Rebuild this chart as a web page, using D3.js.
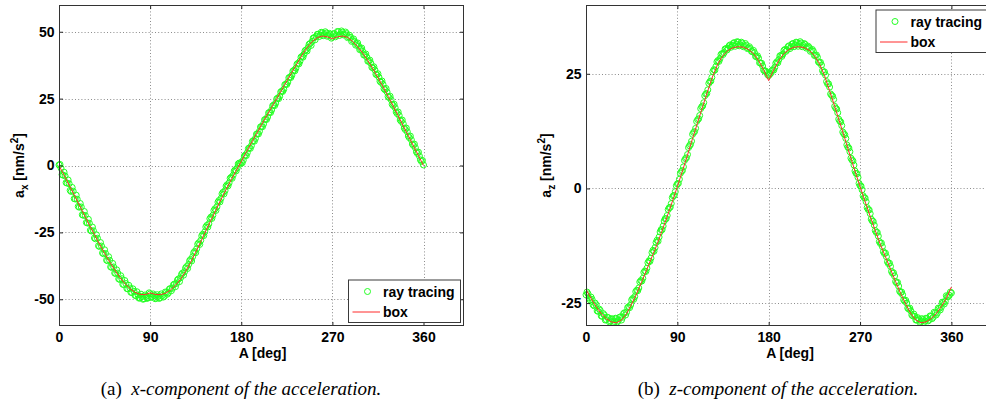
<!DOCTYPE html>
<html>
<head>
<meta charset="utf-8">
<script src="https://cdn.jsdelivr.net/npm/d3@7"></script>
<style>
  html, body { margin: 0; padding: 0; background: #fff; }
  svg { display: block; }
  .tick text { font-family: "Liberation Sans", Arial, sans-serif; font-weight: bold; font-size: 14px; fill: #000; }
  .lbl { font-family: "Liberation Sans", Arial, sans-serif; font-weight: bold; font-size: 14px; fill: #000; }
  .cap { font-family: "Liberation Serif", "DejaVu Serif", serif; font-size: 19px; fill: #000; }
</style>
</head>
<body>
<svg id="fig" width="986" height="408"></svg>
<script>
// Azimuth angle A [deg]: box model sampled every 5 deg, ray tracing every 1 deg
const boxAngles = d3.range(0, 361, 5);
const rayAngles = d3.range(0, 361, 1);
const xTicks = [0, 90, 180, 270, 360];

// (a) x-component, box model
const axBox = [
  0, -3.6, -7.3, -11, -14.7, -18.5, -22.2, -25.8, -29.4, -32.8, -36, -39, -41.8, -44.1, -46,
  -47.4, -48.2, -48.3, -47.6, -48.2, -48.3, -47.8, -46.6, -44.8, -42.5, -39.6, -36.2, -32.4,
  -28.5, -24.4, -20.5, -16.6, -12.7, -9, -5.4, -1.9, 1.5, 5, 8.4, 11.8, 15.2, 18.5, 21.8, 25,
  28.3, 31.6, 34.8, 38, 41.2, 44, 46.3, 47.8, 48.4, 48.1, 47.4, 48.1, 48.4, 47.9, 46.4, 44.4,
  42, 39.2, 36.2, 32.9, 29.5, 25.9, 22.3, 18.6, 14.8, 11.1, 7.4, 3.7, 0
];
// (a) x-component, ray tracing (0..360 deg)
const axRay = [
  0.2, 0.4, -1.0, -3.4, -3.6, -2.5, -3.9, -6.4, -6.6, -5.4,
  -6.8, -9.3, -9.7, -8.2, -9.6, -12.4, -12.5, -11.1, -12.6, -15.3,
  -15.6, -14.2, -15.5, -18.4, -18.6, -17.2, -18.7, -21.3, -21.5, -20.1,
  -21.6, -24.2, -24.5, -23.0, -24.4, -27.1, -27.4, -25.9, -27.2, -30.0,
  -30.3, -28.8, -30.1, -32.7, -33.0, -31.5, -32.9, -35.4, -35.6, -34.1,
  -35.4, -37.9, -38.1, -36.6, -37.9, -40.2, -40.4, -39.0, -40.2, -42.4,
  -42.6, -41.2, -42.3, -44.4, -44.5, -43.0, -44.1, -46.0, -46.1, -44.8,
  -45.8, -47.4, -47.5, -46.1, -47.0, -48.5, -48.7, -47.2, -48.4, -49.6,
  -49.5, -48.1, -49.0, -50.0, -49.8, -48.4, -48.9, -49.7, -49.4, -47.6,
  -48.0, -49.3, -49.1, -48.0, -48.6, -49.8, -49.6, -48.3, -48.9, -49.7,
  -49.4, -48.0, -48.6, -49.2, -48.9, -47.3, -47.5, -48.1, -47.6, -46.2,
  -46.0, -46.8, -45.9, -44.6, -44.3, -45.3, -44.1, -42.8, -42.4, -43.4,
  -42.0, -40.7, -40.2, -41.0, -39.7, -38.3, -37.8, -38.5, -37.0, -35.6,
  -35.1, -35.7, -34.1, -32.6, -32.1, -32.6, -31.1, -29.4, -28.9, -29.5,
  -28.0, -26.3, -25.7, -26.2, -24.8, -23.0, -22.4, -23.0, -21.8, -19.9,
  -19.3, -19.8, -18.6, -16.8, -16.2, -16.8, -15.4, -13.7, -13.1, -13.6,
  -12.3, -10.6, -10.0, -10.6, -9.4, -7.7, -7.2, -7.6, -6.5, -4.8,
  -4.4, -4.8, -3.6, -2.1, -1.6, -2.0, -0.9, 0.6, 0.9, 0.5,
  1.2, 1.0, 2.0, 3.5, 3.9, 3.7, 4.8, 6.3, 6.6, 6.4,
  7.4, 9.0, 9.3, 9.1, 10.1, 11.7, 11.9, 11.8, 12.8, 14.4,
  14.6, 14.5, 15.5, 17.1, 17.3, 17.2, 18.1, 19.7, 19.9, 19.8,
  20.8, 22.3, 22.6, 22.4, 23.3, 24.9, 25.2, 25.0, 25.9, 27.5,
  27.8, 27.7, 28.5, 30.2, 30.4, 30.3, 31.2, 32.8, 33.0, 32.9,
  33.8, 35.3, 35.6, 35.4, 36.4, 37.9, 38.2, 38.0, 39.0, 40.5,
  40.8, 40.5, 41.6, 42.9, 43.2, 42.8, 44.1, 45.3, 45.6, 44.9,
  46.4, 47.6, 47.8, 47.0, 48.2, 49.0, 49.1, 48.2, 48.8, 49.8,
  49.6, 48.5, 49.0, 50.0, 49.5, 48.3, 48.6, 49.4, 49.1, 47.6,
  48.0, 49.2, 49.3, 48.1, 48.7, 50.1, 50.0, 48.6, 49.2, 50.3,
  49.8, 48.8, 49.0, 49.9, 49.3, 47.8, 48.1, 48.7, 47.9, 46.4,
  46.8, 47.3, 46.3, 45.0, 45.4, 45.8, 44.6, 43.3, 43.5, 43.9,
  42.6, 41.3, 41.3, 41.7, 40.5, 39.0, 39.0, 39.4, 38.2, 36.7,
  36.5, 36.9, 35.7, 34.1, 33.9, 34.3, 33.0, 31.5, 31.1, 31.6,
  30.3, 28.7, 28.3, 28.8, 27.5, 25.8, 25.4, 25.9, 24.6, 22.9,
  22.4, 22.9, 21.6, 20.0, 19.4, 20.0, 18.7, 17.0, 16.5, 17.0,
  15.6, 14.0, 13.4, 14.0, 12.6, 11.0, 10.4, 11.0, 9.6, 8.0,
  7.5, 8.0, 6.6, 5.1, 4.5, 5.0, 3.5, 2.1, 1.5, 1.9,
  0.2
];

// (b) z-component, box model
const azBox = [
  -22, -24, -25.8, -27.3, -28.4, -29.1, -29.3, -28.7, -27.3, -25.2, -22.9, -20.3, -17.6, -14.9,
  -12.2, -9.2, -6.1, -2.9, 0.4, 3.8, 7.3, 10.9, 14.4, 17.9, 21.3, 24.6, 27.2, 29, 30.1, 30.7,
  30.9, 30.8, 30.3, 29.4, 27.9, 25.9, 23.5, 25.9, 27.9, 29.4, 30.3, 30.8, 30.9, 30.7, 30.1, 29,
  27.2, 24.6, 21.3, 17.9, 14.4, 10.9, 7.3, 3.8, 0.4, -2.9, -6.1, -9.2, -12.2, -14.9, -17.6,
  -20.3, -22.9, -25.2, -27.3, -28.7, -29.3, -29.1, -28.4, -27.3, -25.8, -24, -21.5
];
// (b) z-component, ray tracing (0..360 deg)
const azRay = [
  -23.2, -22.6, -23.0, -23.9, -24.3, -23.7, -24.2, -25.4, -25.6, -25.0,
  -25.4, -26.7, -26.8, -26.3, -26.6, -27.8, -27.9, -27.3, -27.6, -28.7,
  -28.6, -28.1, -28.2, -29.1, -28.9, -28.4, -28.5, -29.2, -29.0, -28.3,
  -28.4, -29.1, -28.8, -28.1, -28.0, -28.7, -28.1, -27.3, -27.1, -27.6,
  -27.0, -26.0, -25.8, -26.0, -25.4, -24.3, -24.0, -24.2, -23.6, -22.5,
  -22.2, -22.3, -21.7, -20.4, -20.1, -20.2, -19.6, -18.3, -18.0, -18.1,
  -17.4, -16.2, -15.8, -15.9, -15.2, -14.0, -13.5, -13.7, -12.9, -11.8,
  -11.3, -11.5, -10.6, -9.5, -9.0, -9.0, -8.2, -7.1, -6.6, -6.6,
  -5.9, -4.6, -4.2, -4.1, -3.3, -2.0, -1.6, -1.5, -0.7, 0.6,
  1.0, 1.1, 2.0, 3.3, 3.7, 3.9, 4.7, 6.1, 6.5, 6.7,
  7.4, 8.9, 9.3, 9.6, 10.3, 11.8, 12.2, 12.4, 13.1, 14.6,
  15.0, 15.2, 15.9, 17.4, 17.8, 18.0, 18.7, 20.2, 20.6, 20.7,
  21.5, 22.9, 23.3, 23.4, 24.2, 25.5, 25.9, 25.8, 26.6, 27.6,
  27.9, 27.7, 28.3, 29.2, 29.4, 29.2, 29.6, 30.4, 30.5, 30.2,
  30.6, 31.1, 31.3, 30.8, 31.2, 31.6, 31.8, 31.0, 31.4, 32.0,
  31.9, 31.1, 31.3, 31.9, 31.7, 30.9, 31.1, 31.6, 31.2, 30.5,
  30.6, 30.9, 30.5, 29.9, 29.8, 30.1, 29.6, 28.8, 28.7, 28.9,
  28.4, 27.4, 27.3, 27.3, 26.7, 25.8, 25.6, 25.6, 25.3, 24.8,
  24.6, 24.9, 25.1, 25.7, 25.9, 25.8, 26.4, 27.3, 27.6, 27.4,
  28.1, 28.9, 29.0, 28.8, 29.3, 30.1, 30.3, 29.9, 30.2, 30.9,
  31.1, 30.5, 30.9, 31.5, 31.6, 30.9, 31.3, 31.9, 31.8, 31.0,
  31.4, 32.0, 31.7, 30.9, 31.2, 31.6, 31.4, 30.6, 30.8, 31.0,
  30.7, 29.9, 30.1, 30.3, 29.9, 29.0, 29.0, 29.1, 28.6, 27.6,
  27.4, 27.5, 26.9, 25.7, 25.3, 25.4, 24.7, 23.3, 22.8, 22.8,
  22.1, 20.6, 20.3, 20.1, 19.4, 17.9, 17.5, 17.3, 16.5, 15.1,
  14.7, 14.5, 13.7, 12.3, 11.9, 11.7, 10.9, 9.5, 9.0, 8.8,
  8.0, 6.6, 6.2, 6.0, 5.1, 3.8, 3.3, 3.2, 2.4, 1.1,
  0.6, 0.5, -0.3, -1.6, -2.0, -2.1, -2.9, -4.2, -4.6, -4.7,
  -5.5, -6.7, -7.1, -7.2, -8.0, -9.2, -9.6, -9.6, -10.4, -11.6,
  -12.0, -11.9, -12.7, -13.8, -14.2, -14.1, -14.9, -16.0, -16.4, -16.3,
  -17.0, -18.1, -18.5, -18.4, -19.1, -20.3, -20.6, -20.5, -21.3, -22.4,
  -22.7, -22.6, -23.2, -24.3, -24.6, -24.4, -25.0, -26.1, -26.3, -26.1,
  -26.7, -27.6, -27.8, -27.4, -27.9, -28.7, -28.7, -28.2, -28.5, -29.2,
  -29.0, -28.4, -28.6, -29.2, -28.9, -28.3, -28.4, -28.9, -28.7, -27.8,
  -27.9, -28.4, -28.1, -27.0, -27.2, -27.6, -27.2, -26.1, -26.2, -26.5,
  -25.9, -24.8, -24.9, -25.2, -24.6, -23.4, -23.6, -23.6, -23.3, -22.6,
  -22.8
];

const seriesNames = ["ray tracing", "box"];
const GREEN = "#22ff22";
const RED = "#ff2a2a";

const svg = d3.select("#fig");

function panel(cfg) {
  const g = svg.append("g").attr("transform", `translate(${cfg.left},${cfg.top})`);
  const w = cfg.width, h = cfg.height;
  const x = d3.scaleLinear().domain([0, 400]).range([0, w]);
  const y = d3.scaleLinear().domain(cfg.yDomain).range([h, 0]);

  g.append("rect").attr("width", w).attr("height", h).attr("fill", "#fff");

  // dotted grid
  const grid = g.append("g").attr("stroke", "#8c8c8c").attr("stroke-width", 1)
    .attr("stroke-dasharray", "1,2.2");
  grid.selectAll(".gx").data(xTicks).join("line")
    .attr("x1", d => Math.round(x(d)) + 0.5).attr("x2", d => Math.round(x(d)) + 0.5)
    .attr("y1", 0).attr("y2", h);
  grid.selectAll(".gy").data(cfg.yTicks).join("line")
    .attr("y1", d => Math.round(y(d)) + 0.5).attr("y2", d => Math.round(y(d)) + 0.5)
    .attr("x1", 0).attr("x2", w);

  // ray tracing markers
  g.append("g").selectAll("circle").data(cfg.ray).join("circle")
    .attr("cx", (d, i) => x(rayAngles[i])).attr("cy", d => y(d)).attr("r", 3)
    .attr("fill", "none").attr("stroke", GREEN).attr("stroke-width", 1);

  // box model line
  const line = d3.line().x((d, i) => x(boxAngles[i])).y(d => y(d));
  g.append("path").datum(cfg.box).attr("d", line)
    .attr("fill", "none").attr("stroke", RED).attr("stroke-width", 1);

  // axes with inward ticks on all four sides
  const fmt = d => String(d);
  g.append("g").attr("transform", `translate(0,${h})`)
    .call(d3.axisBottom(x).tickValues(xTicks).tickFormat(fmt).tickSizeInner(-4).tickSizeOuter(0).tickPadding(6));
  g.append("g")
    .call(d3.axisTop(x).tickValues(xTicks).tickFormat("").tickSizeInner(-4).tickSizeOuter(0));
  g.append("g")
    .call(d3.axisLeft(y).tickValues(cfg.yTicks).tickFormat(fmt).tickSizeInner(-4).tickSizeOuter(0).tickPadding(4.5));
  g.append("g").attr("transform", `translate(${w},0)`)
    .call(d3.axisRight(y).tickValues(cfg.yTicks).tickFormat("").tickSizeInner(-4).tickSizeOuter(0));
  g.selectAll(".domain").remove();
  g.selectAll(".tick line").attr("stroke", "#222");

  g.append("rect").attr("x", 0.5).attr("y", 0.5).attr("width", w - 1).attr("height", h - 1)
    .attr("fill", "none").attr("stroke", "#333").attr("stroke-width", 1);

  // axis titles
  g.append("text").attr("class", "lbl").attr("x", w / 2 + 1).attr("y", h + 31.5)
    .attr("text-anchor", "middle").text("A [deg]");
  const yl = g.append("text").attr("class", "lbl")
    .attr("transform", `translate(${cfg.yLabelX},${h / 2}) rotate(-90)`)
    .attr("text-anchor", "middle");
  yl.append("tspan").text("a");
  yl.append("tspan").attr("dy", 4).attr("font-size", 10).text(cfg.comp);
  yl.append("tspan").attr("dy", -4).text(" [nm/s");
  yl.append("tspan").attr("dy", -6).attr("font-size", 10).text("2");
  yl.append("tspan").attr("dy", 6).text("]");

  // legend
  const lg = g.append("g").attr("transform", `translate(${cfg.legend[0]},${cfg.legend[1]})`);
  lg.append("rect").attr("x", 0.5).attr("y", 0.5).attr("width", 112).attr("height", 42.5)
    .attr("fill", "#fff").attr("stroke", "#3a3a3a").attr("stroke-width", 1);
  lg.append("circle").attr("cx", 19.5).attr("cy", 12).attr("r", 3)
    .attr("fill", "none").attr("stroke", GREEN).attr("stroke-width", 1);
  lg.append("line").attr("x1", 4.5).attr("x2", 32).attr("y1", 32.5).attr("y2", 32.5)
    .attr("stroke", RED).attr("stroke-width", 1);
  lg.selectAll("text").data(seriesNames).join("text").attr("class", "lbl")
    .attr("x", 35).attr("y", (d, i) => 17 + i * 20).text(d => d);

  // caption
  const cap = svg.append("text").attr("class", "cap")
    .attr("x", cfg.capX).attr("y", 395).attr("text-anchor", "middle");
  cap.append("tspan").text(cfg.capTag + "\u2002");
  cap.append("tspan").attr("font-style", "italic").text(cfg.capText);
}

panel({
  left: 59, top: 5, width: 405, height: 321,
  yDomain: [-60, 60], yTicks: [-50, -25, 0, 25, 50],
  box: axBox, ray: axRay, comp: "x", yLabelX: -35.5,
  legend: [289, 274.5],
  capX: 241, capTag: "(a)", capText: "x-component of the acceleration."
});
panel({
  left: 586, top: 5, width: 406, height: 321,
  yDomain: [-30, 40], yTicks: [-25, 0, 25],
  box: azBox, ray: azRay, comp: "z", yLabelX: -35.5,
  legend: [289.5, 4.5],
  capX: 778, capTag: "(b)", capText: "z-component of the acceleration."
});
</script>
</body>
</html>
